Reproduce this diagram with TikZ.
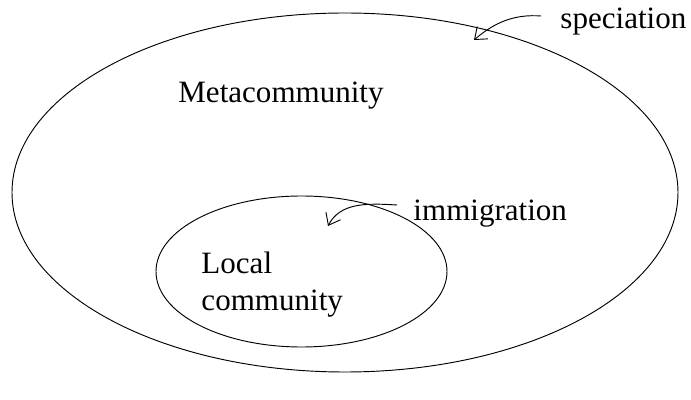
\documentclass[tikz,border=0pt]{standalone}
\usepackage{fontspec}
\setmainfont{Liberation Serif}
\usetikzlibrary{arrows.meta}
\tikzset{lbl/.style={font=\fontsize{26.5}{32}\selectfont, inner sep=0pt},
	curly/.style={-{Straight Barb[length=9pt,width=14pt]}, line width=0.8pt}}
\begin{document}
\begin{tikzpicture}[x=0.03cm,y=-0.03cm, line width=0.8pt]
			\useasboundingbox (0,0) rectangle (691,400);
			\draw (345,192.5) ellipse [x radius=333, y radius=179.5];
			\draw (301.5,271.5) ellipse [x radius=145.5, y radius=75.5];
			\node[lbl] (meta) at (281,96) {Metacommunity};
			\node[lbl, align=left, anchor=north west] (local) at (201,251) {Local\\community};
			\node[lbl, anchor=west] (spec) at (560,22) {speciation};
			\node[lbl, anchor=west] (immi) at (413,214) {immigration};
			\coordinate (specS) at (541,16); \coordinate (specT) at (474,40);
			\coordinate (immiS) at (397,205); \coordinate (immiT) at (328,226);
			\draw[curly] (specS) .. controls (515,14) and (495,22) .. (specT);
			\draw[curly] (immiS) .. controls (365,203) and (340,203) .. (immiT);
			\end{tikzpicture}
\end{document}
